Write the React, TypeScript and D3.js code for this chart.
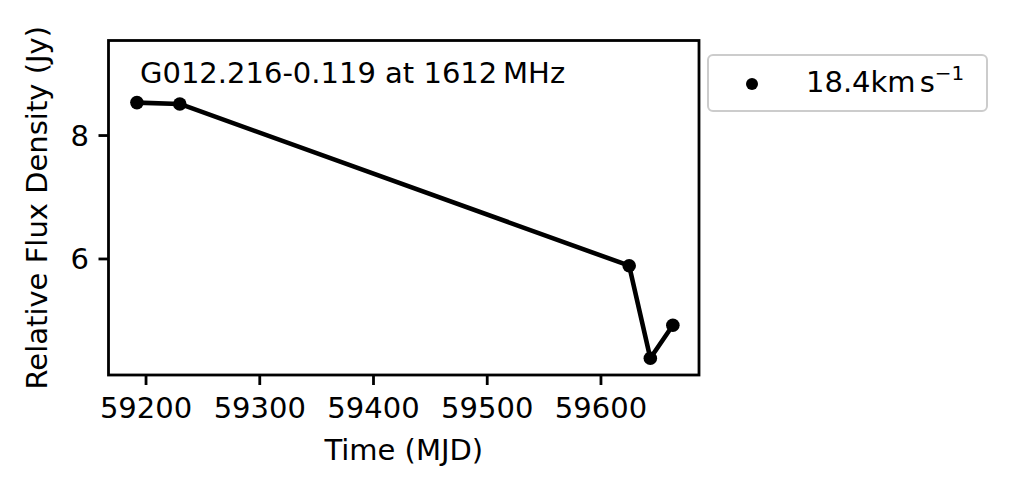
import React from "react";
import * as d3 from "d3";

const dates = [59192.0, 59229.7, 59624.8, 59643.4, 59663.2];
const flux = [8.534, 8.512, 5.891, 4.392, 4.926];
const xTicks = [59200, 59300, 59400, 59500, 59600];
const yTicks = [6, 8];
const xDomain = [59167.0, 59686.2];
const yDomain = [4.12, 9.54];
const title = "G012.216-0.119 at 1612\u2009MHz";
const legendLabel = "18.4";
const xLabel = "Time (MJD)";
const yLabel = "Relative Flux Density (Jy)";

const W = 1016;
const H = 502;
const L = 108.5;
const R = 699;
const T = 40.5;
const B = 375;
const FONT = "'DejaVu Sans', sans-serif";
const FS = 29;

export default function App() {
  const x = d3.scaleLinear().domain(xDomain).range([L, R]);
  const y = d3.scaleLinear().domain(yDomain).range([B, T]);
  const pts = dates.map((d, i) => [d, flux[i]] as [number, number]);
  const line = d3
    .line<[number, number]>()
    .x((d) => x(d[0]))
    .y((d) => y(d[1]));

  return (
    <svg
      width={W}
      height={H}
      style={{ position: "absolute", left: 0, top: 0, background: "#fff" }}
      fontFamily={FONT}
    >
      <rect x={0} y={0} width={W} height={H} fill="#fff" />
      <path d={line(pts) || ""} fill="none" stroke="#000" strokeWidth={4.6} strokeLinejoin="round" />
      {pts.map((p, i) => (
        <circle key={i} cx={x(p[0])} cy={y(p[1])} r={6.8} fill="#000" />
      ))}
      <rect x={L} y={T} width={R - L} height={B - T} fill="none" stroke="#000" strokeWidth={2.8} />
      {xTicks.map((t) => (
        <g key={t}>
          <line x1={x(t)} x2={x(t)} y1={B} y2={B + 10} stroke="#000" strokeWidth={2.8} />
          <text x={x(t)} y={418} textAnchor="middle" fontSize={FS} fill="#000">
            {t}
          </text>
        </g>
      ))}
      {yTicks.map((t) => (
        <g key={t}>
          <line x1={L - 10} x2={L} y1={y(t)} y2={y(t)} stroke="#000" strokeWidth={2.8} />
          <text x={89} y={y(t) + 10.5} textAnchor="end" fontSize={FS} fill="#000">
            {t}
          </text>
        </g>
      ))}
      <text x={(L + R) / 2} y={460} textAnchor="middle" fontSize={FS} fill="#000">
        {xLabel}
      </text>
      <text
        transform={`translate(47,${(T + B) / 2}) rotate(-90)`}
        textAnchor="middle"
        fontSize={FS}
        fill="#000"
      >
        {yLabel}
      </text>
      <text x={140} y={83} fontSize={FS} fill="#000">
        {title}
      </text>
      <rect x={708} y={55} width={279} height={56} rx={5} fill="#fff" stroke="#cccccc" strokeWidth={2} />
      <circle cx={752} cy={84} r={6} fill="#000" />
      <text x={806} y={92} fontSize={FS} fill="#000">
        {legendLabel}
        <tspan>km</tspan>
        <tspan dx={4}>s</tspan>
        <tspan dy={-12} fontSize={20}>{"\u22121"}</tspan>
      </text>
    </svg>
  );
}
